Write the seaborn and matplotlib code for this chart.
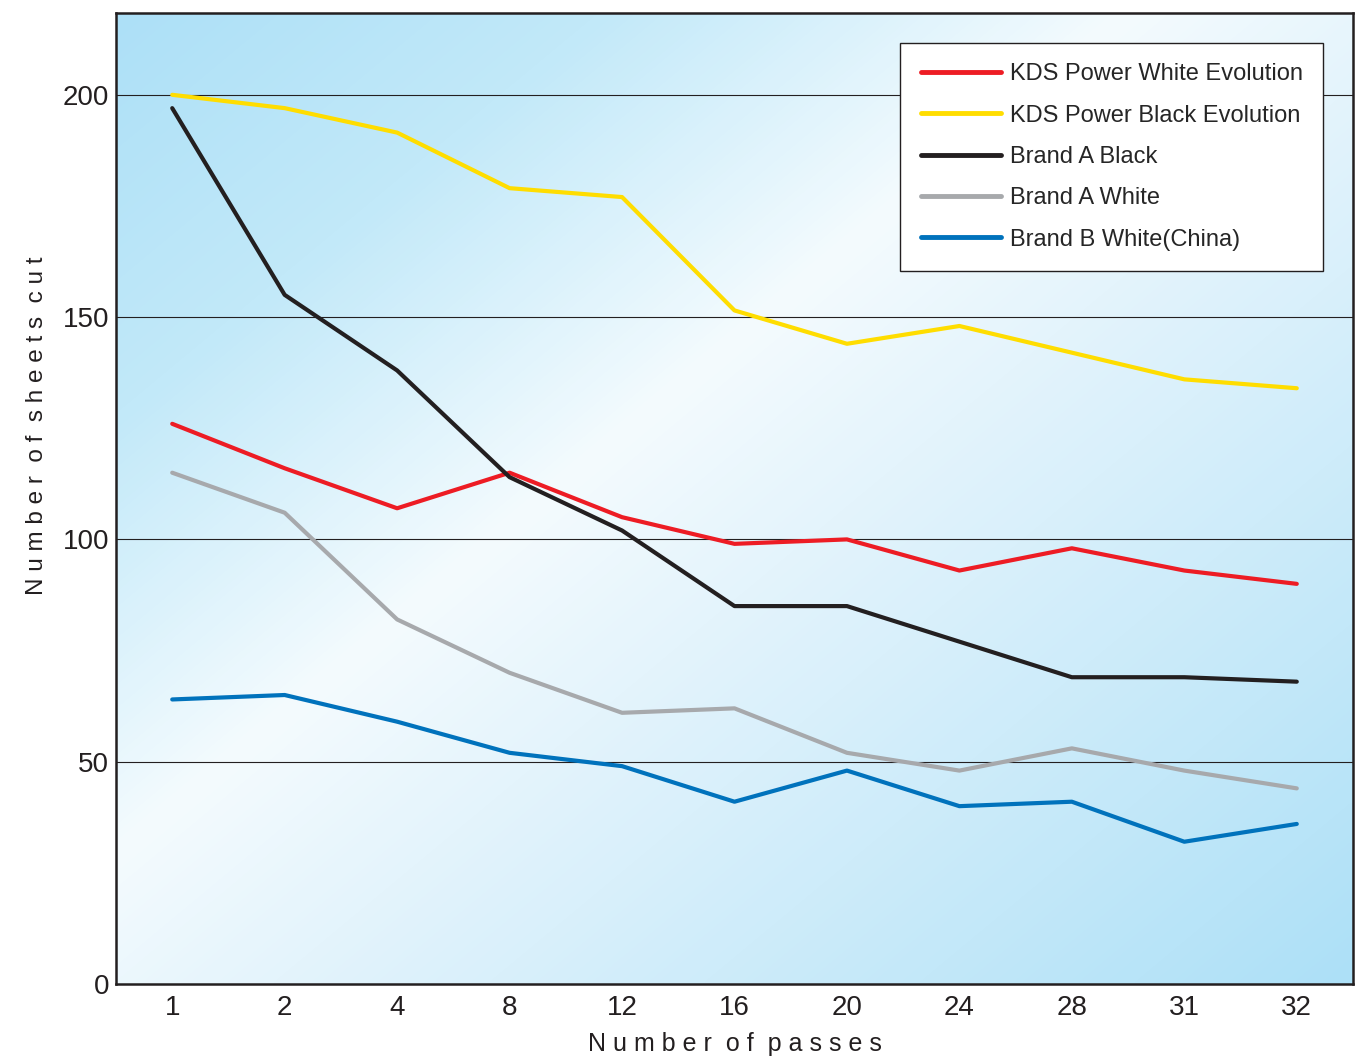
import numpy as np
import pandas as pd
import matplotlib
matplotlib.use("Agg")
import matplotlib.pyplot as plt
from matplotlib.colors import LinearSegmentedColormap
import seaborn as sns

# **Data**
passes = ["1", "2", "4", "8", "12", "16", "20", "24", "28", "31", "32"]
kds_white = [126, 116, 107, 115, 105, 99, 100, 93, 98, 93, 90]
kds_black = [200, 197, 191.5, 179, 177, 151.5, 144, 148, 142, 136, 134]
brand_a_black = [197, 155, 138, 114, 102, 85, 85, 77, 69, 69, 68]
brand_a_white = [115, 106, 82, 70, 61, 62, 52, 48, 53, 48, 44]
brand_b_white = [64, 65, 59, 52, 49, 41, 48, 40, 41, 32, 36]

series_names = ["KDS Power White Evolution", "KDS Power Black Evolution",
                "Brand A Black", "Brand A White", "Brand B White(China)"]
series_values = [kds_white, kds_black, brand_a_black, brand_a_white, brand_b_white]
colors = ["#ed1c24", "#ffdd00", "#231f20", "#a7a9ac", "#0072bc"]

df = pd.concat([pd.DataFrame({"passes": passes, "sheets": v, "series": n})
                for n, v in zip(series_names, series_values)], ignore_index=True)

sns.set_style("white")
plt.rcParams['font.family'] = ['Liberation Sans Narrow', 'Liberation Sans', 'DejaVu Sans']

W, H = 1363, 1061
fig = plt.figure(figsize=(W / 100, H / 100), dpi=100)
pos = [116 / W, (H - 984) / H, (1353 - 116) / W, (984 - 13) / H]

# **Background gradient**
bg = fig.add_axes(pos, zorder=0)
ny, nx = 200, 250
yy, xx = np.mgrid[0:ny, 0:nx]
px = xx / (nx - 1) * 1237
py = yy / (ny - 1) * 971
s = 0.64 * px + 0.77 * py
t = (s - s.min()) / (s.max() - s.min())
grad_cmap = LinearSegmentedColormap.from_list(
    "bg", [(0, "#ade0f7"), (0.2, "#c2e9f9"), (0.42, "#f4fbfe"),
           (0.55, "#e4f4fc"), (1, "#ade0f7")])
bg.imshow(t, cmap=grad_cmap, aspect="auto", interpolation="bilinear",
          extent=[0, 1, 0, 1], vmin=0, vmax=1)
bg.set_axis_off()

ax = fig.add_axes(pos, zorder=1)
ax.patch.set_alpha(0)

sns.lineplot(data=df, x="passes", y="sheets", hue="series", palette=colors,
             sort=False, linewidth=3, ax=ax, zorder=3)

ax.set_xlim(-0.5, len(passes) - 0.5)
ax.set_ylim(0, 218.4)
ax.set_yticks([0, 50, 100, 150, 200])
for yv in [50, 100, 150, 200]:
    ax.axhline(yv, color="#231f20", linewidth=0.8, zorder=1)

ax.tick_params(axis="x", direction="in", length=19, width=1.5, color="#231f20",
               labelsize=20, pad=8, labelcolor="#231f20")
ax.tick_params(axis="y", length=0, labelsize=20, pad=5, labelcolor="#231f20")
for sp in ax.spines.values():
    sp.set_visible(True)
    sp.set_color("#231f20")
    sp.set_linewidth(1.8)

ax.set_xlabel("N u m b e r  o f  p a s s e s", fontsize=18,
              color="#231f20", family=['Liberation Sans', 'DejaVu Sans'], labelpad=8)
ax.set_ylabel("N u m b e r  o f  s h e e t s  c u t", fontsize=17.5,
              color="#231f20", family=['Liberation Sans', 'DejaVu Sans'])
ax.yaxis.set_label_coords(-0.055, 0.575)

leg = ax.legend(loc="upper right", bbox_to_anchor=(0.976, 0.969), borderaxespad=0,
                fontsize=17, handlelength=3.4, handletextpad=0.4, labelspacing=0.82,
                frameon=True, fancybox=False, edgecolor="#231f20", framealpha=1,
                borderpad=0.85, title=None)
leg.get_frame().set_linewidth(1.0)
for line in leg.get_lines():
    line.set_linewidth(3.5)
leg.set_zorder(5)

fig.savefig("out.png", dpi=100)
